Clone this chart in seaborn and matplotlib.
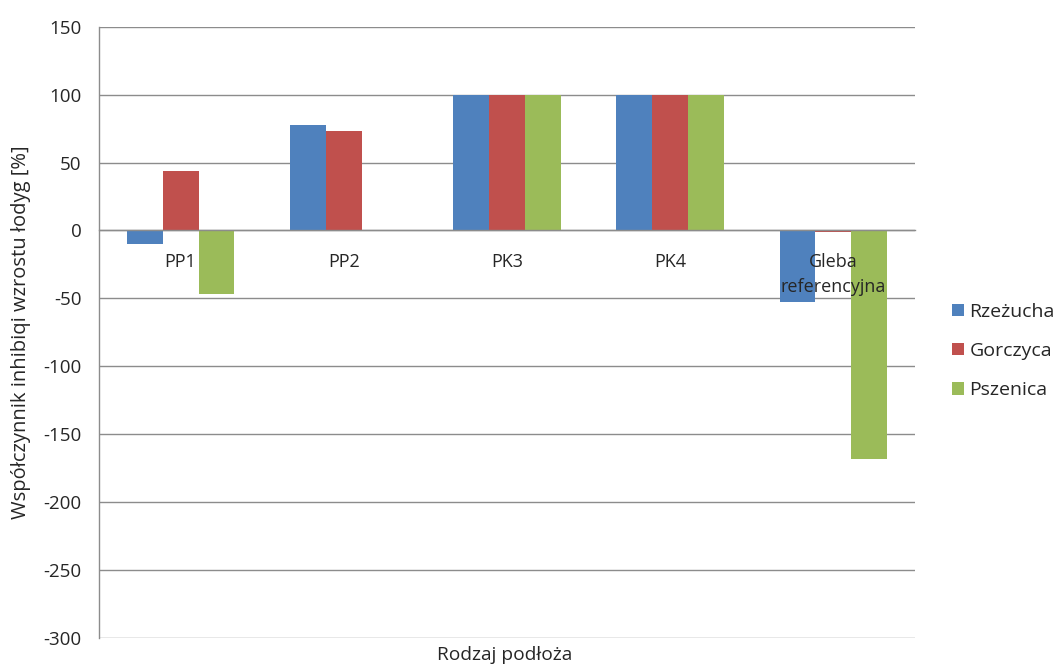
import matplotlib
matplotlib.use("Agg")
import matplotlib.pyplot as plt
from matplotlib.ticker import FixedLocator, MultipleLocator
import seaborn as sns
import pandas as pd

# Growth inhibition coefficient of shoots per substrate and test plant
categories = ["PP1", "PP2", "PK3", "PK4", "Gleba\nreferencyjna"]
rzezucha = [-10, 78, 100, 100, -53]
gorczyca = [44, 73, 100, 100, -1]
pszenica = [-47, 0, 100, 100, -168]
series_names = ["Rzeżucha", "Gorczyca", "Pszenica"]
colors = ["#4F81BD", "#C0504D", "#9BBB59"]

df = pd.DataFrame({
    "Rodzaj podłoża": categories * 3,
    "Wartość": rzezucha + gorczyca + pszenica,
    "Roślina": [s for s in series_names for _ in categories],
})

sns.set_theme(style="white")
plt.rcParams["font.family"] = ["Open Sans", "DejaVu Sans"]
plt.rcParams["axes.unicode_minus"] = False
text_color = "#262626"
grid_color = "#8C8C8C"

fig = plt.figure(figsize=(10.57, 6.66), dpi=100)
ax = fig.add_axes([99 / 1057, 1 - 638 / 666, (915 - 99) / 1057, (638 - 26.7) / 666])

sns.barplot(data=df, x="Rodzaj podłoża", y="Wartość", hue="Roślina",
            palette=colors, width=0.66, gap=0, saturation=1,
            edgecolor="none", linewidth=0, ax=ax, legend=True)

ax.set_ylim(-300, 150)
ax.set_xlim(-0.5, 4.5)
ax.yaxis.set_major_locator(MultipleLocator(50))
ax.grid(axis="y", color=grid_color, linewidth=1.0)
ax.set_axisbelow(True)
# category labels sit on top of the bars, value gridlines stay behind them
ax.xaxis.set_zorder(5)

# axes frame: only the value axis on the left and the category axis at zero
for side in ("top", "right"):
    ax.spines[side].set_visible(False)
ax.spines["left"].set_color(grid_color)
ax.spines["left"].set_linewidth(1.0)
ax.spines["bottom"].set_position(("data", 0))
ax.spines["bottom"].set_color(grid_color)
ax.spines["bottom"].set_linewidth(1.0)

ax.tick_params(axis="y", which="major", direction="out", length=4.5,
               color=grid_color, width=1, labelsize=13.5, labelcolor=text_color, pad=8)
ax.tick_params(axis="x", which="major", length=0, labelsize=13,
               labelcolor=text_color, pad=16.5)
ax.xaxis.set_minor_locator(FixedLocator([0.5, 1.5, 2.5, 3.5, 4.5]))
ax.tick_params(axis="x", which="minor", direction="out", length=6,
               color=grid_color, width=1)
for lbl in ax.get_xticklabels():
    lbl.set_verticalalignment("top")
    lbl.set_linespacing(1.45)

ax.set_xlabel("")
ax.set_ylabel("")
fig.text(505 / 1057, 1 - 655 / 666, "Rodzaj podłoża", ha="center", va="center",
         fontsize=13.8, color=text_color)
fig.text(21 / 1057, 1 - 332 / 666, "Współczynnik inhibiqi wzrostu łodyg [%]",
         rotation=90, ha="center", va="center", fontsize=14.5, color=text_color)

handles, labels = ax.get_legend_handles_labels()
ax.legend(handles, labels, loc="center left", frameon=False,
          bbox_to_anchor=(952 / 1057, 1 - 351 / 666), bbox_transform=fig.transFigure,
          fontsize=14, handlelength=0.6, handleheight=0.6, handletextpad=0.3,
          labelspacing=1.1, labelcolor=text_color, borderaxespad=0, borderpad=0)

fig.savefig("out.png", dpi=100)
